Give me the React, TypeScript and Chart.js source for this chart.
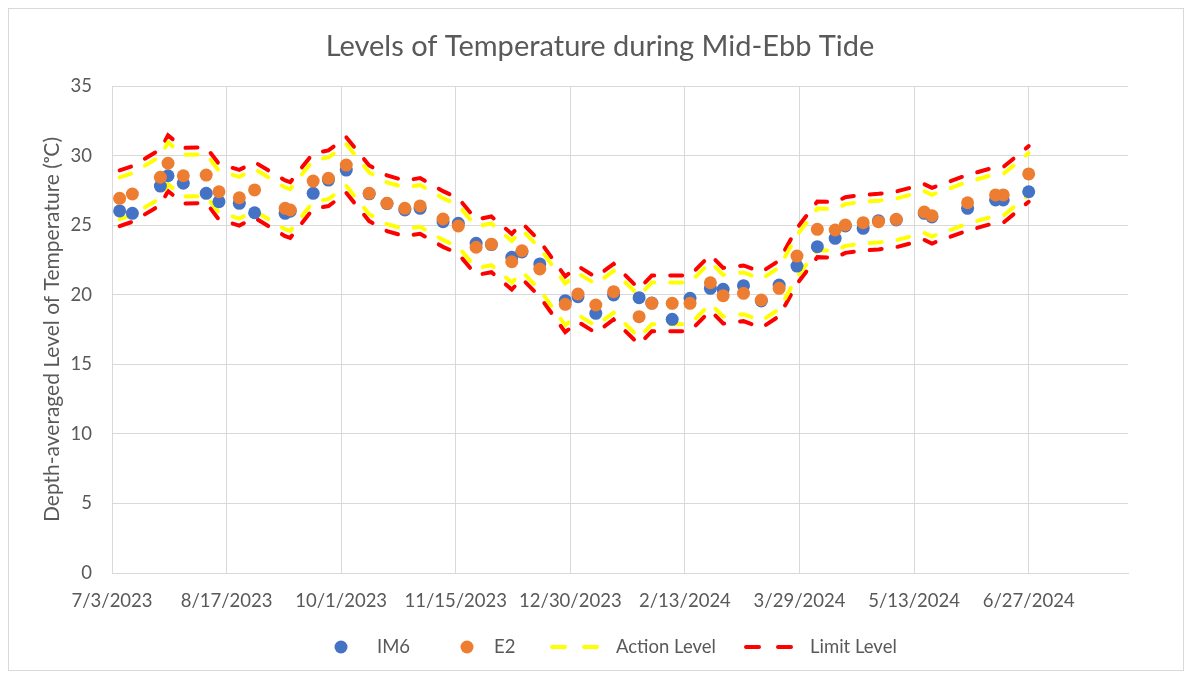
import React, { useEffect, useRef } from "react";
import { Chart, registerables } from "chart.js";

Chart.register(...registerables);

// ---------- data ----------
const titleText = "Levels of Temperature during Mid-Ebb Tide";
const yAxisTitle = "Depth-averaged Level of Temperature (ᵒC)";

const axisStartDate = "2023-07-03";
const axisEndDate = "2024-08-05";
const xTickStepDays = 45;
const yMin = 0;
const yMax = 35;
const yStep = 5;

const dates = [
  "2023-07-06", "2023-07-11", "2023-07-22", "2023-07-25", "2023-07-31",
  "2023-08-09", "2023-08-14", "2023-08-22", "2023-08-28", "2023-09-09",
  "2023-09-11", "2023-09-20", "2023-09-26", "2023-10-03", "2023-10-12",
  "2023-10-19", "2023-10-26", "2023-11-01", "2023-11-10", "2023-11-16",
  "2023-11-23", "2023-11-29", "2023-12-07", "2023-12-11", "2023-12-18",
  "2023-12-28", "2024-01-02", "2024-01-09", "2024-01-16", "2024-01-26",
  "2024-01-31", "2024-02-08", "2024-02-15", "2024-02-23", "2024-02-28",
  "2024-03-07", "2024-03-14", "2024-03-21", "2024-03-28", "2024-04-05",
  "2024-04-12", "2024-04-16", "2024-04-23", "2024-04-29", "2024-05-06",
  "2024-05-17", "2024-05-20", "2024-06-03", "2024-06-14", "2024-06-17",
  "2024-06-27",
];

const im6 = [
  26.02, 25.85, 27.81, 28.55, 28.01, 27.29, 26.69, 26.57, 25.89, 25.85,
  26.0, 27.29, 28.24, 28.96, 27.25, 26.55, 26.09, 26.21, 25.25, 25.13,
  23.7, 23.6, 22.69, 23.07, 22.21, 19.57, 19.86, 18.66, 19.98, 19.79,
  19.4, 18.23, 19.74, 20.46, 20.39, 20.65, 19.55, 20.7, 22.06, 23.45,
  24.05, 24.94, 24.77, 25.32, 25.37, 25.85, 25.59, 26.21, 26.81, 26.81,
  27.4,
];

const e2 = [
  26.93, 27.24, 28.44, 29.45, 28.55, 28.6, 27.4, 26.97, 27.53, 26.21,
  26.09, 28.17, 28.37, 29.32, 27.29, 26.57, 26.21, 26.38, 25.44, 24.94,
  23.41, 23.62, 22.37, 23.16, 21.85, 19.31, 20.05, 19.26, 20.22, 18.42,
  19.38, 19.38, 19.38, 20.86, 19.93, 20.1, 19.62, 20.46, 22.78, 24.7,
  24.65, 25.01, 25.18, 25.25, 25.42, 25.94, 25.68, 26.61, 27.17, 27.17,
  28.68,
];

const actionUpper = [
  28.43, 28.74, 29.94, 30.95, 30.05, 30.1, 28.9, 28.47, 29.03, 27.71,
  27.59, 29.67, 29.87, 30.82, 28.79, 28.07, 27.71, 27.88, 26.94, 26.44,
  24.91, 25.12, 23.87, 24.66, 23.35, 20.81, 21.55, 20.76, 21.72, 19.92,
  20.88, 20.88, 20.88, 22.36, 21.43, 21.6, 21.12, 21.96, 24.28, 26.2,
  26.15, 26.51, 26.68, 26.75, 26.92, 27.44, 27.18, 28.11, 28.67, 28.67,
  30.18,
];

const actionLower = [
  25.43, 25.74, 26.94, 27.95, 27.05, 27.1, 25.9, 25.47, 26.03, 24.71,
  24.59, 26.67, 26.87, 27.82, 25.79, 25.07, 24.71, 24.88, 23.94, 23.44,
  21.91, 22.12, 20.87, 21.66, 20.35, 17.81, 18.55, 17.76, 18.72, 16.92,
  17.88, 17.88, 17.88, 19.36, 18.43, 18.6, 18.12, 18.96, 21.28, 23.2,
  23.15, 23.51, 23.68, 23.75, 23.92, 24.44, 24.18, 25.11, 25.67, 25.67,
  27.18,
];

const limitUpper = [
  28.93, 29.24, 30.44, 31.45, 30.55, 30.6, 29.4, 28.97, 29.53, 28.21,
  28.09, 30.17, 30.37, 31.32, 29.29, 28.57, 28.21, 28.38, 27.44, 26.94,
  25.41, 25.62, 24.37, 25.16, 23.85, 21.31, 22.05, 21.26, 22.22, 20.42,
  21.38, 21.38, 21.38, 22.86, 21.93, 22.1, 21.62, 22.46, 24.78, 26.7,
  26.65, 27.01, 27.18, 27.25, 27.42, 27.94, 27.68, 28.61, 29.17, 29.17,
  30.68,
];

const limitLower = [
  24.93, 25.24, 26.44, 27.45, 26.55, 26.6, 25.4, 24.97, 25.53, 24.21,
  24.09, 26.17, 26.37, 27.32, 25.29, 24.57, 24.21, 24.38, 23.44, 22.94,
  21.41, 21.62, 20.37, 21.16, 19.85, 17.31, 18.05, 17.26, 18.22, 16.42,
  17.38, 17.38, 17.38, 18.86, 17.93, 18.1, 17.62, 18.46, 20.78, 22.7,
  22.65, 23.01, 23.18, 23.25, 23.42, 23.94, 23.68, 24.61, 25.17, 25.17,
  26.68,
];

// ---------- helpers ----------
const DAY_MS = 86400000;
const parseUTC = (s: string) => {
  const [y, m, d] = s.split("-").map(Number);
  return Date.UTC(y, m - 1, d);
};
const startMs = parseUTC(axisStartDate);
const toDays = (s: string) => Math.round((parseUTC(s) - startMs) / DAY_MS);
const fmtDay = (v: number) => {
  const d = new Date(startMs + v * DAY_MS);
  return `${d.getUTCMonth() + 1}/${d.getUTCDate()}/${d.getUTCFullYear()}`;
};
const toPoints = (vals: number[]) => dates.map((s, i) => ({ x: toDays(s), y: vals[i] }));

const FONT = "Lato";
const TEXT = "#595959";
const GRID = "#D9D9D9";
const BLUE = "#4472C4";
const ORANGE = "#ED7D31";
const YELLOW = "#FFFF00";
const RED = "#FF0000";

const W = 1176;
const H = 663;

const decorPlugin = {
  id: "decor",
  beforeDraw(chart: any) {
    const ctx = chart.ctx;
    ctx.save();
    ctx.fillStyle = "#FFFFFF";
    ctx.fillRect(0, 0, chart.width, chart.height);
    ctx.strokeStyle = GRID;
    ctx.lineWidth = 1;
    ctx.strokeRect(0.5, 0.5, chart.width - 1, chart.height - 1);
    ctx.restore();
  },
  afterDraw(chart: any) {
    const ctx = chart.ctx;
    ctx.save();
    // title
    ctx.fillStyle = TEXT;
    ctx.font = `29px ${FONT}`;
    ctx.textAlign = "center";
    ctx.textBaseline = "middle";
    ctx.fillText(titleText, 592, 39);

    // legend
    const ly = 639;
    ctx.font = `18.5px ${FONT}`;
    ctx.textAlign = "left";
    ctx.textBaseline = "middle";
    const dot = (cx: number, color: string) => {
      ctx.beginPath();
      ctx.fillStyle = color;
      ctx.arc(cx, ly, 6.5, 0, Math.PI * 2);
      ctx.fill();
    };
    const dash = (x0: number, x1: number, color: string) => {
      ctx.strokeStyle = color;
      ctx.lineWidth = 4;
      ctx.lineCap = "round";
      ctx.beginPath();
      ctx.moveTo(x0 + 2, ly);
      ctx.lineTo(x0 + 15, ly);
      ctx.moveTo(x1 - 15, ly);
      ctx.lineTo(x1 - 2, ly);
      ctx.stroke();
    };
    dot(333, BLUE);
    ctx.fillStyle = TEXT;
    ctx.fillText("IM6", 369, ly);
    dot(459, ORANGE);
    ctx.fillStyle = TEXT;
    ctx.fillText("E2", 486, ly);
    dash(542, 591, YELLOW);
    ctx.fillStyle = TEXT;
    ctx.fillText("Action Level", 608, ly);
    dash(736, 785, RED);
    ctx.fillStyle = TEXT;
    ctx.fillText("Limit Level", 802, ly);
    ctx.restore();
  },
};

export default function App() {
  const ref = useRef<HTMLCanvasElement | null>(null);

  useEffect(() => {
    if (!ref.current) return;
    const lineDs = (label: string, vals: number[], color: string, order: number) => ({
      label,
      data: toPoints(vals),
      showLine: true,
      borderColor: color,
      backgroundColor: color,
      borderWidth: 4,
      borderDash: [12, 16],
      borderCapStyle: "round" as const,
      pointRadius: 0,
      pointHoverRadius: 0,
      tension: 0,
      order,
    });
    const chart = new Chart(ref.current, {
      type: "scatter",
      data: {
        datasets: [
          {
            label: "E2",
            data: toPoints(e2),
            backgroundColor: ORANGE,
            borderColor: ORANGE,
            borderWidth: 0,
            pointRadius: 6.5,
            order: 0,
          },
          {
            label: "IM6",
            data: toPoints(im6),
            backgroundColor: BLUE,
            borderColor: BLUE,
            borderWidth: 0,
            pointRadius: 6.5,
            order: 1,
          },
          lineDs("Action Level", actionUpper, YELLOW, 2),
          lineDs("Action Level (lower)", actionLower, YELLOW, 3),
          lineDs("Limit Level", limitUpper, RED, 4),
          lineDs("Limit Level (lower)", limitLower, RED, 5),
        ] as any,
      },
      options: {
        animation: false,
        responsive: false,
        devicePixelRatio: 1,
        layout: { padding: { left: 0, top: 78, right: 56, bottom: 0 } },
        plugins: {
          legend: { display: false },
          title: { display: false },
          tooltip: { enabled: false },
        },
        scales: {
          x: {
            type: "linear",
            min: 0,
            max: toDays(axisEndDate),
            afterFit: (s: any) => {
              s.height = 98;
            },
            grid: { color: GRID, lineWidth: 1, drawTicks: false },
            border: { display: true, color: GRID, width: 1 },
            ticks: {
              stepSize: xTickStepDays,
              includeBounds: false,
              autoSkip: false,
              maxRotation: 0,
              padding: 17,
              color: TEXT,
              font: { family: FONT, size: 18.5 },
              callback: (v: any) => fmtDay(Number(v)),
            },
          },
          y: {
            min: yMin,
            max: yMax,
            afterFit: (s: any) => {
              s.width = 104;
            },
            grid: { color: GRID, lineWidth: 1, drawTicks: false },
            border: { display: false },
            ticks: {
              stepSize: yStep,
              padding: 20,
              color: TEXT,
              font: { family: FONT, size: 18.5 },
            },
            title: {
              display: true,
              text: yAxisTitle,
              color: TEXT,
              font: { family: FONT, size: 21 },
              padding: { top: 32, bottom: 0 },
            },
          },
        },
      } as any,
      plugins: [decorPlugin],
    });
    return () => chart.destroy();
  }, []);

  return (
    <div style={{ width: W, height: H }}>
      <canvas ref={ref} width={W} height={H} style={{ display: "block", width: W, height: H }} />
    </div>
  );
}
